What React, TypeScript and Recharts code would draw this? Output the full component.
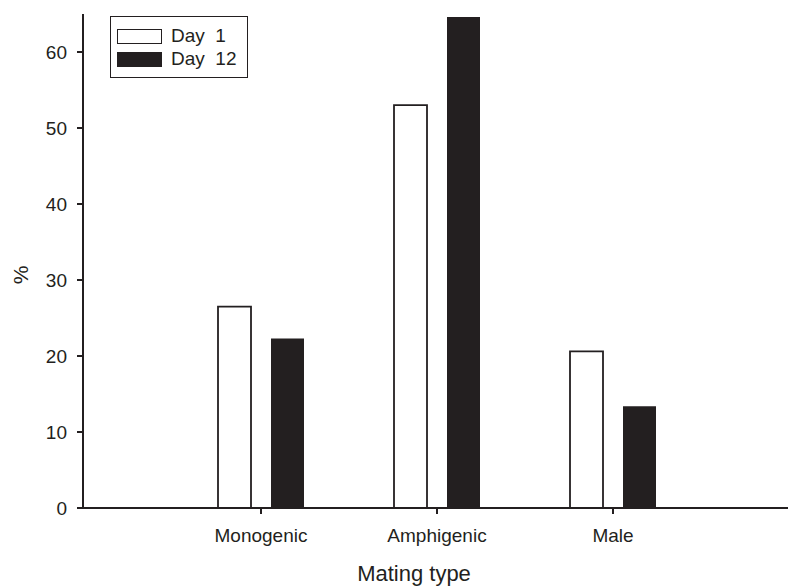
import { BarChart, Bar, XAxis, YAxis } from "recharts";

const INK = "#231f20";
const FONT = "'Liberation Sans', Arial, Helvetica, sans-serif";

const matingTypes = ["Monogenic", "Amphigenic", "Male"];
const day1 = [26.5, 53.0, 20.6];
const day12 = [22.3, 64.6, 13.4];
const yTicks = [0, 10, 20, 30, 40, 50, 60];

const data = matingTypes.map((type, i) => ({
  type,
  day1: day1[i],
  day12: day12[i],
}));

// legend box drawn like the original: outlined swatch + filled swatch
function LegendBox() {
  const rows = [
    { label: "Day  1", fill: "#ffffff" },
    { label: "Day  12", fill: INK },
  ];
  return (
    <div
      style={{
        position: "absolute",
        left: 110,
        top: 16,
        width: 136,
        height: 60,
        border: `1.5px solid ${INK}`,
        background: "#fff",
        fontFamily: FONT,
        fontSize: 19,
        color: INK,
      }}
    >
      {rows.map((r, i) => (
        <div
          key={r.label}
          style={{
            position: "absolute",
            left: 6,
            top: 11 + i * 23,
            display: "flex",
            alignItems: "center",
            whiteSpace: "pre",
          }}
        >
          <span
            style={{
              display: "inline-block",
              width: 43,
              height: 13,
              background: r.fill,
              border: `1.5px solid ${INK}`,
              marginRight: 9,
            }}
          />
          <span style={{ lineHeight: "16px" }}>{r.label}</span>
        </div>
      ))}
    </div>
  );
}

export default function App() {
  return (
    <div style={{ position: "absolute", left: 0, top: 0, background: "#fff" }}>
      <BarChart
        width={788}
        height={588}
        data={data}
        margin={{ top: 14, right: 0, bottom: 0, left: 0 }}
        barSize={33}
        barGap={20}
        style={{ fontFamily: FONT }}
      >
        <XAxis
          dataKey="type"
          height={80}
          padding={{ left: 90, right: 87 }}
          axisLine={{ stroke: INK, strokeWidth: 2 }}
          tickLine={{ stroke: INK, strokeWidth: 2 }}
          tickSize={6}
          tickMargin={15}
          tick={{ fontSize: 19, fill: INK }}
          label={(props: any) => {
            const vb = props.viewBox;
            return (
              <text
                x={414}
                y={vb.y + vb.height - 7}
                textAnchor="middle"
                fontSize={22}
                fill={INK}
                fontFamily={FONT}
              >
                Mating type
              </text>
            );
          }}
        />
        <YAxis
          width={83}
          domain={[0, 65]}
          ticks={yTicks}
          interval={0}
          axisLine={{ stroke: INK, strokeWidth: 2 }}
          tickLine={{ stroke: INK, strokeWidth: 2 }}
          tickSize={6}
          tickMargin={10}
          tick={{ fontSize: 19, fill: INK }}
          label={(props: any) => {
            const vb = props.viewBox;
            const cx = 20;
            const cy = vb.y + vb.height / 2 + 14;
            return (
              <text
                x={cx}
                y={cy}
                transform={`rotate(-90 ${cx} ${cy})`}
                textAnchor="middle"
                dominantBaseline="central"
                fontSize={21}
                fill={INK}
                fontFamily={FONT}
              >
                %
              </text>
            );
          }}
        />
        <Bar
          dataKey="day1"
          name="Day 1"
          fill="#ffffff"
          stroke={INK}
          strokeWidth={1.8}
          isAnimationActive={false}
        />
        <Bar
          dataKey="day12"
          name="Day 12"
          fill={INK}
          isAnimationActive={false}
        />
      </BarChart>
      <LegendBox />
    </div>
  );
}
